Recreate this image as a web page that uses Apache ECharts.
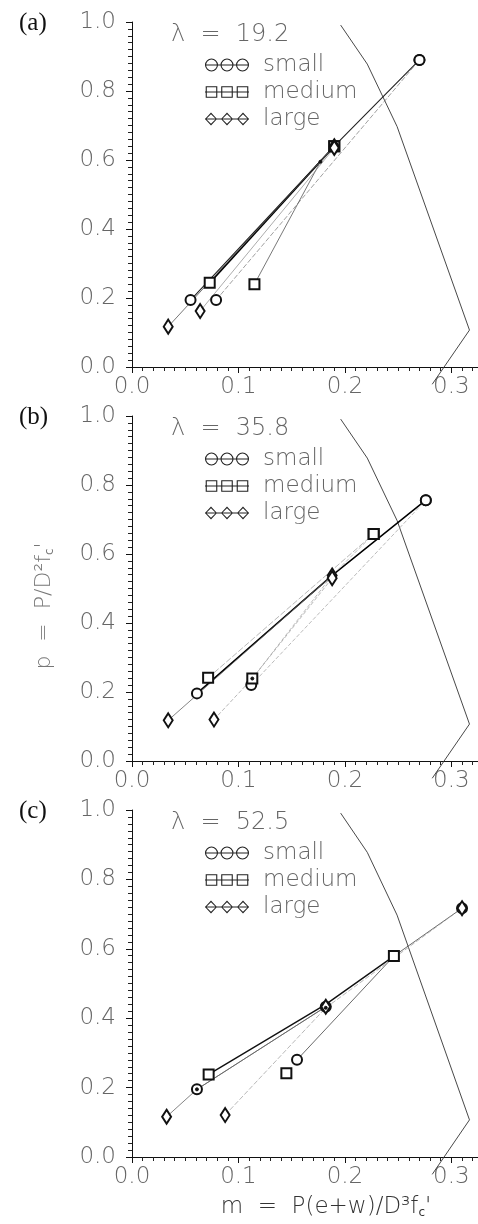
<!DOCTYPE html>
<html><head><meta charset="utf-8">
<script src="https://cdn.jsdelivr.net/npm/echarts@6/dist/echarts.min.js"></script>
<style>html,body{margin:0;padding:0;background:#fff}#c{width:478px;height:1224px}</style>
</head><body><div id="c"></div>
<script>
// ---------- data ----------
const panelLabels = ['(a)', '(b)', '(c)'];
const lambdaValues = ['19.2', '35.8', '52.5'];
const sizeNames = ['small', 'medium', 'large'];
const xTickLabels = ['0.0', '0.1', '0.2', '0.3'];
const yTickLabels = ['0.0', '0.2', '0.4', '0.6', '0.8', '1.0'];

// interaction (failure) envelope, same in all panels
const boundary = [[0.196, 0.991], [0.221, 0.878], [0.249, 0.697], [0.317, 0.107], [0.282, -0.05]];

// panel (a)  lambda = 19.2
const aSmall1  = [[0.055, 0.194], [0.190, 0.640], [0.270, 0.890]];
const aSmall2  = [[0.079, 0.194], [0.270, 0.890]];
const aMedium1 = [[0.073, 0.244], [0.190, 0.640]];
const aMedium2 = [[0.115, 0.240], [0.177, 0.595], [0.190, 0.640]];
const aLarge1  = [[0.034, 0.117], [0.190, 0.640]];
const aLarge2  = [[0.064, 0.162], [0.190, 0.635]];

// panel (b)  lambda = 35.8
const bSmall1  = [[0.061, 0.196], [0.188, 0.538], [0.276, 0.756]];
const bSmall2  = [[0.112, 0.220], [0.276, 0.756]];
const bMedium1 = [[0.0715, 0.241], [0.227, 0.658]];
const bMedium2 = [[0.113, 0.239], [0.188, 0.538], [0.227, 0.658]];
const bLarge1  = [[0.034, 0.118], [0.188, 0.538]];
const bLarge2  = [[0.077, 0.120], [0.113, 0.239], [0.188, 0.530]];

// panel (c)  lambda = 52.5
const cSmall1  = [[0.061, 0.195], [0.182, 0.433]];
const cSmall2  = [[0.155, 0.280], [0.246, 0.579], [0.310, 0.717]];
const cMedium1 = [[0.072, 0.238], [0.182, 0.440], [0.246, 0.579]];
const cMedium2 = [[0.145, 0.241]];
const cLarge1  = [[0.0325, 0.116], [0.061, 0.195], [0.182, 0.433]];
const cLarge2  = [[0.0875, 0.121], [0.182, 0.430], [0.310, 0.717]];

const panelPaths = [
  [['small', aSmall1], ['small', aSmall2], ['medium', aMedium1], ['medium', aMedium2], ['large', aLarge1], ['large', aLarge2]],
  [['small', bSmall1], ['small', bSmall2], ['medium', bMedium1], ['medium', bMedium2], ['large', bLarge1], ['large', bLarge2]],
  [['small', cSmall1], ['small', cSmall2], ['medium', cMedium1], ['medium', cMedium2], ['large', cLarge1], ['large', cLarge2]]
];

// ---------- styles ----------
const gridTops = [22, 416, 810];
const gridHeights = [345, 345, 347];
const lineColors = [
  ['#222', '#777', '#000', '#555', '#555', '#888'],
  ['#000', '#aaa', '#999', '#aaa', '#666', '#999'],
  ['#555', '#444', '#111', '#666', '#666', '#999']
];
const lineWidths = [
  [1.1, 0.7, 1.7, 0.8, 0.8, 0.7],
  [1.5, 0.8, 0.7, 0.8, 0.8, 0.7],
  [0.8, 0.8, 1.4, 0.7, 0.8, 0.7]
];
const lineDash = [
  ['solid', [5, 2], 'solid', 'solid', 'solid', 'solid'],
  ['solid', [4, 2], [6, 2], [4, 2], 'solid', [4, 2]],
  ['solid', 'solid', 'solid', 'solid', 'solid', [5, 2]]
];
const symbolOf = { small: 'emptyCircle', medium: 'emptyRect', large: 'emptyDiamond' };
const symbolSizeOf = { small: 10, medium: 10, large: [9, 14] };
const FONT = "'DejaVu Sans', 'Liberation Sans', sans-serif";
const TXT = '#666';
const FW = 200;

// legend icons: three hollow markers threaded on a line
const LW = 44, LH = 13;
const centers = [6.5, 22, 37.5];
function ring(cx, cy, R, r) {
  return `M${cx - R} ${cy}A${R} ${R} 0 1 1 ${cx + R} ${cy}A${R} ${R} 0 1 1 ${cx - R} ${cy}Z` +
         `M${cx - r} ${cy}A${r} ${r} 0 1 0 ${cx + r} ${cy}A${r} ${r} 0 1 0 ${cx - r} ${cy}Z`;
}
function box(cx, cy, h, t) {
  const a = cx - h, b = cx + h, c = cy - h, d = cy + h;
  const a2 = a + t, b2 = b - t, c2 = c + t, d2 = d - t;
  return `M${a} ${c}L${b} ${c}L${b} ${d}L${a} ${d}Z` +
         `M${a2} ${c2}L${a2} ${d2}L${b2} ${d2}L${b2} ${c2}Z`;
}
function dia(cx, cy, w, h, t) {
  return `M${cx} ${cy - h}L${cx + w} ${cy}L${cx} ${cy + h}L${cx - w} ${cy}Z` +
         `M${cx} ${cy - h + 1.6 * t}L${cx - w + t} ${cy}L${cx} ${cy + h - 1.6 * t}L${cx + w - t} ${cy}Z`;
}
const bar = `M0 ${LH / 2 - 0.5}L${LW} ${LH / 2 - 0.5}L${LW} ${LH / 2 + 0.5}L0 ${LH / 2 + 0.5}Z`;
const legendIcons = {
  small: 'path://' + bar + centers.map(c => ring(c, LH / 2, 6.5, 5.4)).join(''),
  medium: 'path://' + bar + centers.map(c => box(c, LH / 2, 5.8, 1.1)).join('') + `M0 0L0.01 0L0.01 ${LH}L0 ${LH}Z`,
  large: 'path://' + bar + [6, 22, 38].map(c => dia(c, LH / 2, 6, 6.5, 1.1)).join('')
};

const grids = [], xAxes = [], yAxes = [], series = [], titles = [], legends = [];

gridTops.forEach((top, p) => {
  grids.push({ left: 132, right: 0, top: top, height: gridHeights[p] });
  xAxes.push({
    type: 'value', gridIndex: p, min: 0, max: 0.325, interval: 0.1,
    axisLine: { show: true, onZero: false, lineStyle: { color: '#111', width: 1 } },
    axisTick: { show: true, length: 6, lineStyle: { color: '#111' } },
    minorTick: { show: true, splitNumber: 10, length: 4, lineStyle: { color: '#222', width: 1 } },
    splitLine: { show: false }, minorSplitLine: { show: false },
    axisLabel: {
      color: TXT, fontFamily: FONT, fontSize: 23, fontWeight: FW, margin: 9,
      showMaxLabel: false,
      formatter: v => {
        const i = Math.round(v / 0.1);
        return Math.abs(v - i * 0.1) < 1e-6 && xTickLabels[i] ? xTickLabels[i] : '';
      }
    }
  });
  yAxes.push({
    type: 'value', gridIndex: p, min: 0, max: 1, interval: 0.2,
    axisLine: { show: true, onZero: false, lineStyle: { color: '#111', width: 1 } },
    axisTick: { show: true, length: 6, lineStyle: { color: '#111' } },
    minorTick: { show: true, splitNumber: 10, length: 4, lineStyle: { color: '#222', width: 1 } },
    splitLine: { show: false }, minorSplitLine: { show: false },
    axisLabel: {
      color: TXT, fontFamily: FONT, fontSize: 23, fontWeight: FW, margin: 16,
      formatter: v => yTickLabels[Math.round(v / 0.2)]
    }
  });
  titles.push({
    text: panelLabels[p], left: 14, top: top - 16,
    textStyle: { fontFamily: "'Liberation Serif', serif", fontSize: 25, fontWeight: 'normal', color: '#111' }
  });
  titles.push({
    text: 'λ  =  ' + lambdaValues[p], left: 166, top: top - 4,
    textStyle: { fontFamily: FONT, fontSize: 24, fontWeight: FW, color: TXT }
  });
  legends.push({
    data: sizeNames.map(n => ({ name: n, icon: legendIcons[n] })),
    orient: 'vertical', left: 200, top: top + 26,
    itemWidth: LW, itemHeight: LH, itemGap: 3,
    selectedMode: false,
    itemStyle: { color: '#222', borderWidth: 0 },
    textStyle: { fontFamily: FONT, fontSize: 23, fontWeight: FW, color: TXT, lineHeight: 24, padding: [0, 0, 0, 9] }
  });

  // envelope
  series.push({
    type: 'line', xAxisIndex: p, yAxisIndex: p, data: boundary,
    symbol: 'none', clip: false, silent: true,
    lineStyle: { color: '#333', width: 0.9 }
  });

  panelPaths[p].forEach(([size, pts], k) => {
    const n = pts.length;
    series.push({
      type: 'line', name: size, xAxisIndex: p, yAxisIndex: p,
      symbol: symbolOf[size], symbolSize: symbolSizeOf[size],
      showAllSymbol: true,
      data: pts.map((v, i) => (i === 0 || i === n - 1) ? { value: v } :
        { value: v, symbol: 'circle', symbolSize: 3 }),
      lineStyle: { color: lineColors[p][k], width: lineWidths[p][k], type: lineDash[p][k] },
      itemStyle: { color: '#111', borderColor: '#111', borderWidth: 1 },
      z: 3
    });
  });
});

const chart = echarts.init(document.getElementById('c'), null, { renderer: 'canvas' });
chart.setOption({
  animation: false,
  backgroundColor: '#fff',
  title: titles,
  legend: legends,
  grid: grids,
  xAxis: xAxes,
  yAxis: yAxes,
  series: series,
  graphic: [
    {
      type: 'text', x: 44, y: 606, rotation: Math.PI / 2,
      style: {
        text: 'p  =  P/D²f{s|c}\'', fontFamily: FONT, fontSize: 22, fontWeight: FW, fill: '#777',
        align: 'center', verticalAlign: 'middle',
        rich: { s: { fontSize: 12, fontFamily: FONT, fill: '#777', padding: [12, 0, 0, 0] } }
      }
    },
    {
      type: 'text', x: 326, y: 1207,
      style: {
        text: 'm  =  P(e+w)/D³f{s|c}\'', fontFamily: FONT, fontSize: 23, fontWeight: FW, fill: '#333',
        align: 'center', verticalAlign: 'middle',
        rich: { s: { fontSize: 12, fontFamily: FONT, fill: '#333', padding: [12, 0, 0, 0] } }
      }
    }
  ]
});
</script></body></html>
